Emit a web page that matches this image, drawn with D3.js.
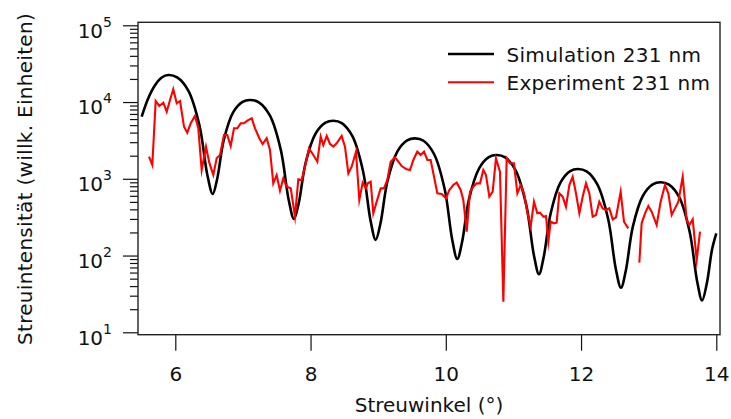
<!DOCTYPE html>
<html>
<head>
<meta charset="utf-8">
<script src="https://cdn.jsdelivr.net/npm/d3@7"></script>
<style>
  html, body { margin: 0; padding: 0; background: #fff; }
  svg { display: block; }
  text { font-family: "DejaVu Sans", sans-serif; fill: #111; }
</style>
</head>
<body>
<svg id="chart" width="731" height="419"></svg>
<script>
// ---- data ----
const xTicks = [6, 8, 10, 12, 14];
const yMajorExp = [1, 2, 3, 4, 5];
const legendLabels = ["Simulation 231 nm", "Experiment 231 nm"];
const xTitle = "Streuwinkel (°)";
const yTitle = "Streuintensität (willk. Einheiten)";

const simX = [5.503, 5.6, 5.7, 5.8, 5.896, 6.027, 6.192, 6.356, 6.474, 6.553, 6.619, 6.719, 6.857, 6.995,
  7.105, 7.235, 7.398, 7.56, 7.677, 7.755, 7.825, 7.93, 8.075, 8.221, 8.337, 8.462, 8.619, 8.775, 8.888,
  8.963, 9.033, 9.138, 9.283, 9.429, 9.545, 9.67, 9.826, 9.983, 10.095, 10.17, 10.24, 10.345, 10.491,
  10.636, 10.753, 10.878, 11.034, 11.19, 11.303, 11.378, 11.447, 11.551, 11.695, 11.84, 11.955, 12.082,
  12.241, 12.4, 12.514, 12.59, 12.661, 12.766, 12.913, 13.06, 13.178, 13.3, 13.455, 13.606, 13.717,
  13.79, 13.861, 13.937, 14.0];
const simY = [6460, 11220, 16600, 20900, 22490, 20940, 14130, 5020, 1122, 634, 995, 3260, 7380, 10070,
  10640, 9910, 6680, 2380, 530, 299, 480, 1656, 3890, 5380, 5710, 5320, 3590, 1270, 283,
  160, 260, 935, 2265, 3170, 3365, 3133, 2104, 736, 161, 90, 149, 551, 1361,
  1919, 2042, 1901, 1282, 454, 101, 57, 95, 356, 891, 1262, 1343, 1250,
  845, 301, 67, 38, 63, 238, 597, 845, 900, 838, 569, 204, 46,
  26, 44, 120, 195];

const exp1X = [5.611, 5.66, 5.71, 5.763, 5.823, 5.873, 5.922, 5.97, 6.021, 6.07, 6.129, 6.177, 6.228,
  6.291, 6.34, 6.39, 6.454, 6.503, 6.562, 6.612, 6.661, 6.72, 6.769, 6.819, 6.868, 6.917, 6.967, 7.016,
  7.065, 7.13, 7.179, 7.242, 7.292, 7.351, 7.4, 7.449, 7.499, 7.548, 7.597, 7.648, 7.707, 7.77, 7.819,
  7.869, 7.918, 7.977, 8.041, 8.1, 8.15, 8.189, 8.239, 8.288, 8.337, 8.386, 8.46, 8.509, 8.559, 8.608,
  8.672, 8.721, 8.771, 8.82, 8.845, 8.889, 8.928, 8.978, 9.037, 9.086, 9.135, 9.185, 9.249, 9.298,
  9.347, 9.421, 9.471, 9.52, 9.579, 9.628, 9.678, 9.727, 9.776, 9.826, 9.875, 9.939, 10.003, 10.052,
  10.111, 10.161, 10.22, 10.259, 10.309, 10.358, 10.407, 10.456, 10.506, 10.555, 10.594, 10.644,
  10.693, 10.742, 10.801, 10.851, 10.9, 10.949, 11.008, 11.058, 11.107, 11.156, 11.205, 11.255,
  11.304, 11.353, 11.393, 11.442, 11.482, 11.516, 11.551, 11.6, 11.639, 11.679, 11.728, 11.777,
  11.827, 11.876, 11.925, 11.975, 12.024, 12.073, 12.122, 12.172, 12.221, 12.27, 12.32, 12.369,
  12.418, 12.468, 12.517, 12.586, 12.635, 12.699];
const exp1Y = [1941, 1514, 10320, 8890, 9810, 7480, 10640, 14660, 9640, 10320, 4775, 3990, 5285,
  6580, 4550, 1303, 2618, 1622, 1122, 1849, 2042, 3724, 3724, 2673, 4550, 4550, 5285, 5285,
  5715, 6140, 4550, 3373, 2840, 3373, 2371, 873, 1122, 700, 1016, 789, 752, 321, 984,
  964, 1439, 2495, 2042, 1671, 3540, 2754, 3614, 2842, 2623, 2899, 3612, 2623, 1179, 1439,
  2257, 529, 891, 751, 873, 918, 355, 504, 751, 751, 965, 1673, 1904, 1673,
  1468, 1329, 1302, 1758, 2257, 2042, 2257, 1758, 1758, 1066, 647, 634, 557, 715,
  830, 891, 715, 529, 205, 680, 790, 873, 873, 1302, 1121, 585,
  680, 1848, 1239, 25, 1848, 1591, 1591, 647, 830, 647, 373, 238,
  504, 355, 362, 321, 327, 152, 276, 263, 268, 647, 585, 432,
  830, 1066, 647, 355, 585, 873, 647, 321, 338, 504, 412, 392,
  412, 296, 315, 680, 276, 226];

const exp2X = [12.862, 12.896, 12.946, 12.995, 13.044, 13.118, 13.177, 13.241, 13.291, 13.34, 13.389,
  13.439, 13.503, 13.562, 13.601, 13.651, 13.71, 13.759];
const exp2Y = [81, 263, 355, 442, 373, 250, 504, 830, 647, 338, 412,
  504, 1066, 291, 250, 296, 87, 205];

// ---- layout ----
const frame = { left: 138, right: 720, top: 22.3, bottom: 334.7 };
const svg = d3.select("#chart");

const x = d3.scaleLinear().domain([6, 14]).range([175.3, 716.3]);
const y = d3.scaleLog().domain([10, 1e5]).range([332.3, 25.3]);

svg.append("defs").append("clipPath").attr("id", "plotclip")
  .append("rect").attr("x", frame.left).attr("y", frame.top)
  .attr("width", frame.right - frame.left).attr("height", frame.bottom - frame.top);

// y axis ticks
const yMajor = yMajorExp.map(e => Math.pow(10, e));
const yMinor = [];
for (let e = 1; e < 5; e++) for (let m = 2; m <= 9; m++) yMinor.push(m * Math.pow(10, e));

const yAxMaj = svg.append("g").attr("transform", `translate(${frame.left},0)`)
  .call(d3.axisLeft(y).tickValues(yMajor).tickSize(15).tickFormat(""));
const yAxMin = svg.append("g").attr("transform", `translate(${frame.left},0)`)
  .call(d3.axisLeft(y).tickValues(yMinor).tickSize(8).tickFormat(""));
[yAxMaj, yAxMin].forEach(g => {
  g.select(".domain").remove();
  g.selectAll("line").attr("stroke", "#111").attr("stroke-width", 1.2);
});

// y tick labels 10^n
const yl = svg.append("g");
yMajorExp.forEach(e => {
  const t = yl.append("text")
    .attr("x", 112).attr("y", y(Math.pow(10, e)) + 12.3)
    .attr("text-anchor", "end").attr("font-size", 20);
  t.append("tspan").text("10");
  t.append("tspan").attr("font-size", 14).attr("dy", -11).text(String(e));
});

// x axis
const xAx = svg.append("g").attr("transform", `translate(0,${frame.bottom})`)
  .call(d3.axisBottom(x).tickValues(xTicks).tickSize(16).tickFormat(d3.format("d")));
xAx.select(".domain").remove();
xAx.selectAll("line").attr("stroke", "#111").attr("stroke-width", 1.2);
xAx.selectAll("text").attr("y", 46.3).attr("dy", null)
  .attr("font-size", 20).attr("font-family", "DejaVu Sans, sans-serif").attr("fill", "#111");

// frame
svg.append("rect")
  .attr("x", frame.left).attr("y", frame.top)
  .attr("width", frame.right - frame.left).attr("height", frame.bottom - frame.top)
  .attr("fill", "none").attr("stroke", "#222").attr("stroke-width", 1.4);

// lines
const plot = svg.append("g").attr("clip-path", "url(#plotclip)");
const simData = simX.map((v, i) => [v, simY[i]]);
const exp1 = exp1X.map((v, i) => [v, exp1Y[i]]);
const exp2 = exp2X.map((v, i) => [v, exp2Y[i]]);

const simLine = d3.line().x(d => x(d[0])).y(d => y(d[1])).curve(d3.curveCatmullRom.alpha(0.5));
const expLine = d3.line().x(d => x(d[0])).y(d => y(d[1]));

plot.append("path").attr("d", simLine(simData))
  .attr("fill", "none").attr("stroke", "#000").attr("stroke-width", 2.6);
[exp1, exp2].forEach(seg => {
  plot.append("path").attr("d", expLine(seg))
    .attr("fill", "none").attr("stroke", "#ff0000").attr("stroke-width", 2.1)
    .attr("stroke-linejoin", "miter").attr("stroke-miterlimit", 10);
});

// legend
const legendColors = ["#000", "#ff0000"];
const lg = svg.append("g");
legendLabels.forEach((lab, i) => {
  const by = 61.7 + i * 28.3;
  lg.append("line").attr("x1", 448).attr("x2", 494)
    .attr("y1", by - 7.7).attr("y2", by - 7.7)
    .attr("stroke", legendColors[i]).attr("stroke-width", i === 0 ? 2.6 : 2.1);
  lg.append("text").attr("x", 506.5).attr("y", by).attr("font-size", 20)
    .attr("letter-spacing", 0.3).text(lab);
});

// axis titles
svg.append("text").attr("x", (frame.left + frame.right) / 2).attr("y", 411.5)
  .attr("text-anchor", "middle").attr("font-size", 20).text(xTitle);
svg.append("text").attr("transform", `translate(32,179) rotate(-90)`)
  .attr("text-anchor", "middle").attr("font-size", 20).attr("letter-spacing", 0.3).text(yTitle);
</script>
</body>
</html>
